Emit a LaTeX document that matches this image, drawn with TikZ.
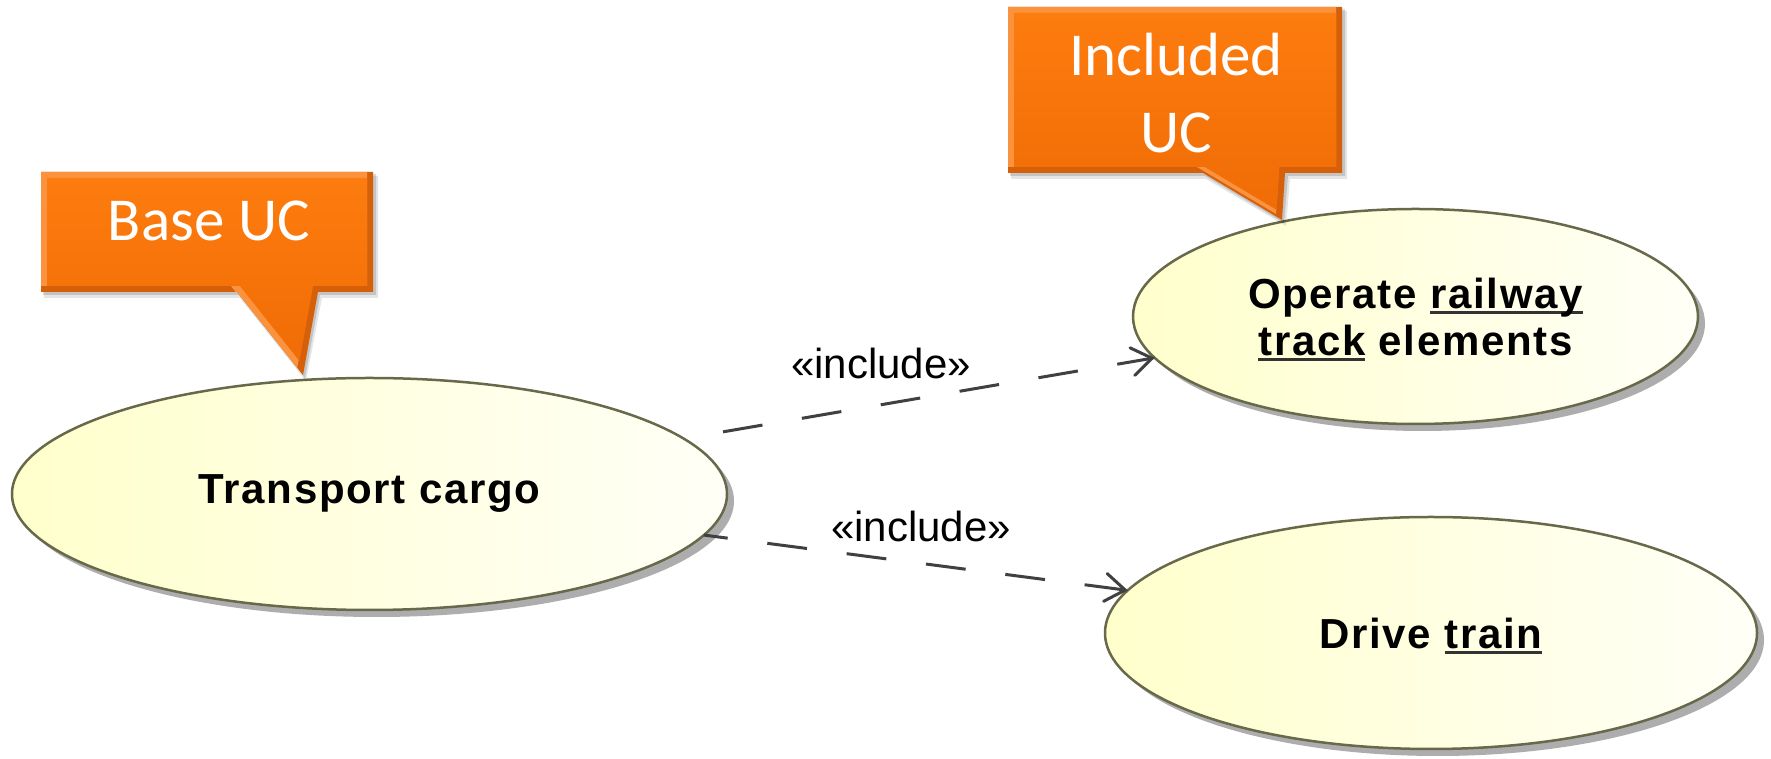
\documentclass[tikz,border=0pt]{standalone}
\usepackage{fontspec}
\usetikzlibrary{arrows.meta,shapes.geometric,shadows}
\newfontfamily\ucfont{Liberation Sans}[LetterSpace=4]
\newfontfamily\lblfont{Liberation Sans}
\newfontfamily\calloutfont{Carlito}
\definecolor{ucborder}{RGB}{104,104,74}
\definecolor{ucleft}{RGB}{255,255,204}
\definecolor{ucright}{RGB}{255,255,247}
\definecolor{conn}{RGB}{64,64,64}
\definecolor{orangetop}{RGB}{253,124,14}
\definecolor{orangebot}{RGB}{240,108,6}
\definecolor{orangelight}{RGB}{250,146,62}
\definecolor{orangedark}{RGB}{214,96,10}
% underlined word: the rule sits just under the baseline and adds no depth
\newcommand\ulword[1]{\setbox0\hbox{#1}\rlap{\raisebox{-6pt}[0pt][0pt]{\color{black!80}\rule{\wd0}{2.6pt}}}\box0\relax}
\begin{document}
\begin{tikzpicture}[x=1pt,y=1pt,
  usecase/.style={ellipse, draw=ucborder, line width=2.5pt, inner sep=0pt, outer sep=0pt,
    left color=ucleft, right color=ucright, align=center, text=black,
    font=\ucfont\bfseries\fontsize{42}{47}\selectfont,
    drop shadow={shadow xshift=7pt, shadow yshift=-7pt, fill=black!32, opacity=1}},
  include/.style={draw=conn, line width=3pt, dash pattern=on 40pt off 40pt,
    -{Straight Barb[length=20pt, width=28pt, line width=3pt, line cap=round]}},
  inclabel/.style={anchor=base, inner sep=0pt, text=black, font=\lblfont\fontsize{42}{48}\selectfont},
  callouttext/.style={anchor=base, inner sep=0pt, text=white, align=center,
    font=\calloutfont\fontsize{61}{77}\selectfont}]
\useasboundingbox (0,0) rectangle (1771,759);
\fill[white] (0,0) rectangle (1771,759);

% use cases
\node[usecase, minimum width=715pt, minimum height=232pt] (base) at (369.5,265) {Transport cargo};
\node[usecase, minimum width=565pt, minimum height=215pt] (inc) at (1415.5,442.5)
  {Operate \ulword{railway}\\\ulword{track} elements};
\node[usecase, minimum width=652pt, minimum height=232pt] (drive) at (1431,126) {Drive \ulword{train}};

% include dependencies
\draw[include, dash phase=40pt] (base.10) --
  node[inclabel, pos=0.419, yshift=26.7pt] (lblop) {«include»} (inc.189);
\draw[include, dash phase=16pt] (base.-7) --
  node[inclabel, pos=0.512, yshift=21.4pt] (lbldr) {«include»} (drive.172);

% callout "Base UC"
\fill[black, opacity=0.10] (44,583) -- (378,583) -- (378,461) -- (322,461) -- (306,378) -- (240,461) -- (44,461) -- cycle;
\fill[black, opacity=0.14] (43,585) -- (376,585) -- (376,464) -- (320,464) -- (305,381) -- (239,464) -- (43,464) -- cycle;
\begin{scope}
  \clip (41,587) -- (373,587) -- (373,467) -- (318,467) -- (303,384) -- (237,467) -- (41,467) -- cycle;
  \fill[orangedark] (30,600) rectangle (390,370);
  \fill[orangelight, shift={(-6,6)}] (41,587) -- (373,587) -- (373,467) -- (318,467) -- (303,384) -- (237,467) -- (41,467) -- cycle;
\end{scope}
\shade[top color=orangetop, bottom color=orangebot]
  (47,581) -- (367,581) -- (367,473) -- (313,473) -- (299.5,398) -- (240,473) -- (47,473) -- cycle;
\node[callouttext] (basetxt) at (209,518.3) {Base UC};

% callout "Included UC"
\fill[black, opacity=0.10] (1011,748) -- (1347,748) -- (1347,580) -- (1290,580) -- (1286,533) -- (1206,580) -- (1011,580) -- cycle;
\fill[black, opacity=0.14] (1010,750) -- (1345,750) -- (1345,583) -- (1288,583) -- (1284,536) -- (1205,583) -- (1010,583) -- cycle;
\begin{scope}
  \clip (1008,752) -- (1342,752) -- (1342,586) -- (1285,586) -- (1282,539) -- (1203,586) -- (1008,586) -- cycle;
  \fill[orangedark] (1000,760) rectangle (1350,530);
  \fill[orangelight, shift={(-6,6)}] (1008,752) -- (1342,752) -- (1342,586) -- (1285,586) -- (1282,539) -- (1203,586) -- (1008,586) -- cycle;
\end{scope}
\shade[top color=orangetop, bottom color=orangebot]
  (1014,746) -- (1336,746) -- (1336,592) -- (1279.4,592) -- (1276.6,549.2) -- (1204.8,592) -- (1014,592) -- cycle;
\node[callouttext] (inctxt) at (1176,606) {Included\\UC};
\end{tikzpicture}
\end{document}
